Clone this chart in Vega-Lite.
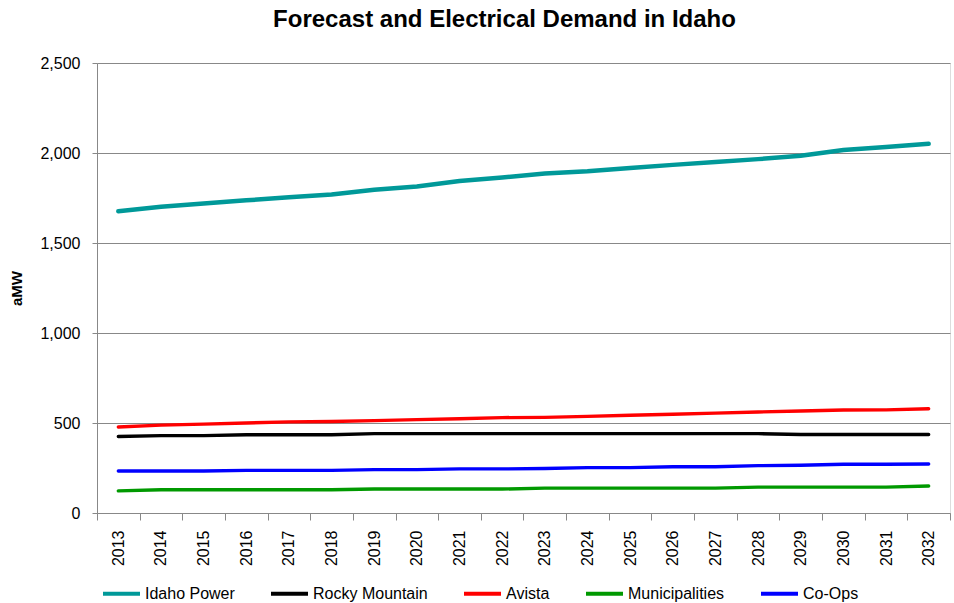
{
  "$schema": "https://vega.github.io/schema/vega-lite/v6.json",
  "autosize": {"type": "none"},
  "padding": {"left": 97, "top": 63, "right": 4, "bottom": 90},
  "width": 853,
  "height": 450,
  "background": "white",
  "title": {"text": "Forecast and Electrical Demand in Idaho", "font": "Liberation Sans", "fontSize": 24, "fontWeight": "bold", "color": "#000000", "anchor": "middle", "dx": -19, "offset": 23},
  "data": {"values": [
    {"year": "2013", "series": "Idaho Power", "aMW": 1676},
    {"year": "2014", "series": "Idaho Power", "aMW": 1701},
    {"year": "2015", "series": "Idaho Power", "aMW": 1720},
    {"year": "2016", "series": "Idaho Power", "aMW": 1737},
    {"year": "2017", "series": "Idaho Power", "aMW": 1754},
    {"year": "2018", "series": "Idaho Power", "aMW": 1770},
    {"year": "2019", "series": "Idaho Power", "aMW": 1796},
    {"year": "2020", "series": "Idaho Power", "aMW": 1814},
    {"year": "2021", "series": "Idaho Power", "aMW": 1845},
    {"year": "2022", "series": "Idaho Power", "aMW": 1864},
    {"year": "2023", "series": "Idaho Power", "aMW": 1886},
    {"year": "2024", "series": "Idaho Power", "aMW": 1898},
    {"year": "2025", "series": "Idaho Power", "aMW": 1917},
    {"year": "2026", "series": "Idaho Power", "aMW": 1934},
    {"year": "2027", "series": "Idaho Power", "aMW": 1950},
    {"year": "2028", "series": "Idaho Power", "aMW": 1966},
    {"year": "2029", "series": "Idaho Power", "aMW": 1985},
    {"year": "2030", "series": "Idaho Power", "aMW": 2017},
    {"year": "2031", "series": "Idaho Power", "aMW": 2033},
    {"year": "2032", "series": "Idaho Power", "aMW": 2051},
    {"year": "2013", "series": "Rocky Mountain", "aMW": 425},
    {"year": "2014", "series": "Rocky Mountain", "aMW": 430},
    {"year": "2015", "series": "Rocky Mountain", "aMW": 430},
    {"year": "2016", "series": "Rocky Mountain", "aMW": 435},
    {"year": "2017", "series": "Rocky Mountain", "aMW": 435},
    {"year": "2018", "series": "Rocky Mountain", "aMW": 435},
    {"year": "2019", "series": "Rocky Mountain", "aMW": 441},
    {"year": "2020", "series": "Rocky Mountain", "aMW": 441},
    {"year": "2021", "series": "Rocky Mountain", "aMW": 441},
    {"year": "2022", "series": "Rocky Mountain", "aMW": 441},
    {"year": "2023", "series": "Rocky Mountain", "aMW": 441},
    {"year": "2024", "series": "Rocky Mountain", "aMW": 441},
    {"year": "2025", "series": "Rocky Mountain", "aMW": 441},
    {"year": "2026", "series": "Rocky Mountain", "aMW": 441},
    {"year": "2027", "series": "Rocky Mountain", "aMW": 441},
    {"year": "2028", "series": "Rocky Mountain", "aMW": 441},
    {"year": "2029", "series": "Rocky Mountain", "aMW": 436},
    {"year": "2030", "series": "Rocky Mountain", "aMW": 436},
    {"year": "2031", "series": "Rocky Mountain", "aMW": 436},
    {"year": "2032", "series": "Rocky Mountain", "aMW": 436},
    {"year": "2013", "series": "Avista", "aMW": 478},
    {"year": "2014", "series": "Avista", "aMW": 488},
    {"year": "2015", "series": "Avista", "aMW": 494},
    {"year": "2016", "series": "Avista", "aMW": 500},
    {"year": "2017", "series": "Avista", "aMW": 506},
    {"year": "2018", "series": "Avista", "aMW": 508},
    {"year": "2019", "series": "Avista", "aMW": 513},
    {"year": "2020", "series": "Avista", "aMW": 519},
    {"year": "2021", "series": "Avista", "aMW": 524},
    {"year": "2022", "series": "Avista", "aMW": 530},
    {"year": "2023", "series": "Avista", "aMW": 531},
    {"year": "2024", "series": "Avista", "aMW": 537},
    {"year": "2025", "series": "Avista", "aMW": 543},
    {"year": "2026", "series": "Avista", "aMW": 549},
    {"year": "2027", "series": "Avista", "aMW": 555},
    {"year": "2028", "series": "Avista", "aMW": 561},
    {"year": "2029", "series": "Avista", "aMW": 567},
    {"year": "2030", "series": "Avista", "aMW": 572},
    {"year": "2031", "series": "Avista", "aMW": 573},
    {"year": "2032", "series": "Avista", "aMW": 579},
    {"year": "2013", "series": "Municipalities", "aMW": 123},
    {"year": "2014", "series": "Municipalities", "aMW": 129},
    {"year": "2015", "series": "Municipalities", "aMW": 129},
    {"year": "2016", "series": "Municipalities", "aMW": 129},
    {"year": "2017", "series": "Municipalities", "aMW": 129},
    {"year": "2018", "series": "Municipalities", "aMW": 129},
    {"year": "2019", "series": "Municipalities", "aMW": 133},
    {"year": "2020", "series": "Municipalities", "aMW": 133},
    {"year": "2021", "series": "Municipalities", "aMW": 133},
    {"year": "2022", "series": "Municipalities", "aMW": 133},
    {"year": "2023", "series": "Municipalities", "aMW": 138},
    {"year": "2024", "series": "Municipalities", "aMW": 138},
    {"year": "2025", "series": "Municipalities", "aMW": 138},
    {"year": "2026", "series": "Municipalities", "aMW": 138},
    {"year": "2027", "series": "Municipalities", "aMW": 138},
    {"year": "2028", "series": "Municipalities", "aMW": 144},
    {"year": "2029", "series": "Municipalities", "aMW": 144},
    {"year": "2030", "series": "Municipalities", "aMW": 144},
    {"year": "2031", "series": "Municipalities", "aMW": 144},
    {"year": "2032", "series": "Municipalities", "aMW": 150},
    {"year": "2013", "series": "Co-Ops", "aMW": 233},
    {"year": "2014", "series": "Co-Ops", "aMW": 233},
    {"year": "2015", "series": "Co-Ops", "aMW": 233},
    {"year": "2016", "series": "Co-Ops", "aMW": 237},
    {"year": "2017", "series": "Co-Ops", "aMW": 237},
    {"year": "2018", "series": "Co-Ops", "aMW": 237},
    {"year": "2019", "series": "Co-Ops", "aMW": 241},
    {"year": "2020", "series": "Co-Ops", "aMW": 241},
    {"year": "2021", "series": "Co-Ops", "aMW": 245},
    {"year": "2022", "series": "Co-Ops", "aMW": 245},
    {"year": "2023", "series": "Co-Ops", "aMW": 247},
    {"year": "2024", "series": "Co-Ops", "aMW": 252},
    {"year": "2025", "series": "Co-Ops", "aMW": 252},
    {"year": "2026", "series": "Co-Ops", "aMW": 257},
    {"year": "2027", "series": "Co-Ops", "aMW": 257},
    {"year": "2028", "series": "Co-Ops", "aMW": 263},
    {"year": "2029", "series": "Co-Ops", "aMW": 265},
    {"year": "2030", "series": "Co-Ops", "aMW": 271},
    {"year": "2031", "series": "Co-Ops", "aMW": 271},
    {"year": "2032", "series": "Co-Ops", "aMW": 272}
  ]},
  "mark": {"type": "line", "strokeCap": "round"},
  "encoding": {
    "x": {
      "field": "year", "type": "ordinal", "title": null,
      "scale": {"type": "band", "paddingInner": 0, "paddingOuter": 0},
      "axis": {"labelAngle": 270, "labelAlign": "right", "labelBaseline": "middle", "labelFont": "Liberation Sans", "labelFontSize": 16, "labelColor": "#000000", "labelPadding": 10, "tickBand": "extent", "tickSize": 7, "tickColor": "#888888", "domainColor": "#888888", "grid": false}
    },
    "y": {
      "field": "aMW", "type": "quantitative", "title": "aMW",
      "scale": {"domain": [0, 2500], "nice": false},
      "axis": {"values": [0, 500, 1000, 1500, 2000, 2500], "format": ",.0f", "labelFont": "Liberation Sans", "labelFontSize": 16, "labelColor": "#000000", "labelPadding": 12, "tickSize": 5, "tickColor": "#888888", "domainColor": "#888888", "gridColor": "#888888", "gridWidth": 1, "titleFont": "Liberation Sans", "titleFontSize": 15, "titleFontWeight": "bold", "titleColor": "#000000", "titlePadding": 15}
    },
    "color": {
      "field": "series", "type": "nominal",
      "scale": {"domain": ["Idaho Power", "Rocky Mountain", "Avista", "Municipalities", "Co-Ops"], "range": ["#009999", "#000000", "#ff0000", "#009900", "#0000ff"]},
      "legend": {"title": null, "orient": "none", "direction": "horizontal", "legendX": 4, "legendY": 510, "symbolType": "stroke", "symbolStrokeWidth": 4, "symbolSize": 1369, "labelFont": "Liberation Sans", "labelFontSize": 16, "labelColor": "#000000", "columnPadding": 28, "labelOffset": 3}
    },
    "strokeWidth": {
      "condition": {"test": "datum.series === 'Idaho Power'", "value": 4.5},
      "value": 3.4
    }
  }
}
